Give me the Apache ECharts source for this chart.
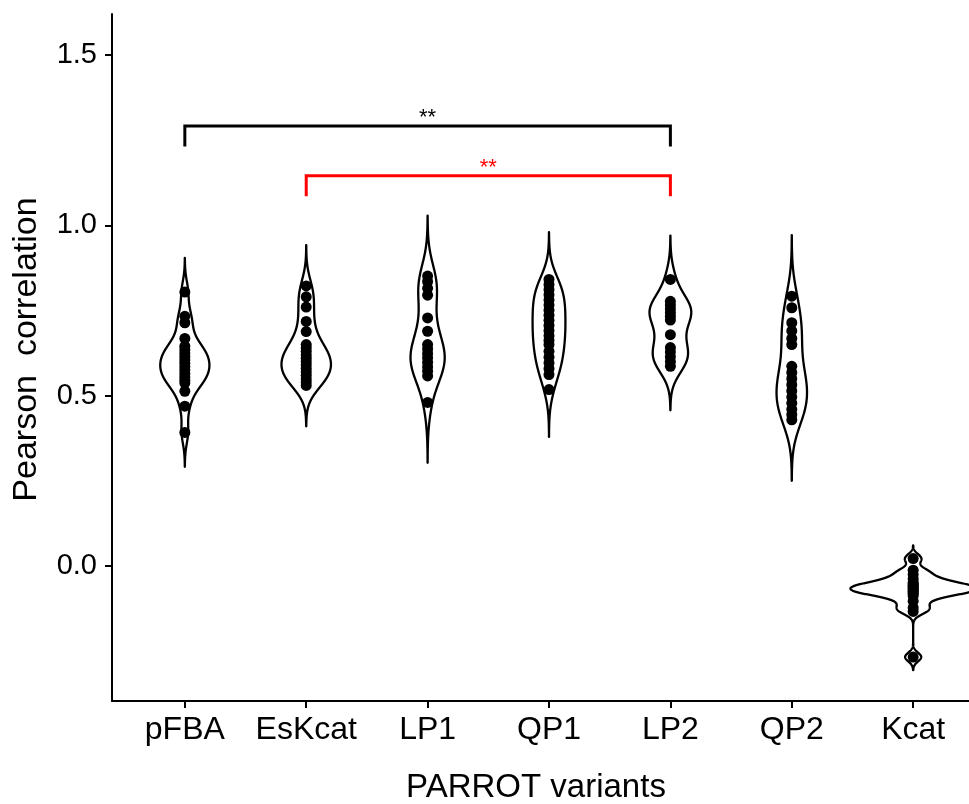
<!DOCTYPE html>
<html>
<head>
<meta charset="utf-8">
<script src="https://cdn.jsdelivr.net/npm/echarts@6/dist/echarts.min.js"></script>
<style>
  html, body { margin: 0; padding: 0; background: #fff; }
  #chart { width: 969px; height: 804px; }
</style>
</head>
<body>
<div id="chart"></div>
<script>
// PARROT variants: Pearson correlation per run
const categories = ['pFBA', 'EsKcat', 'LP1', 'QP1', 'LP2', 'QP2', 'Kcat'];

const pFBA   = [0.804, 0.733, 0.714, 0.668, 0.645, 0.635, 0.625, 0.615, 0.605, 0.595, 0.585, 0.575, 0.565, 0.555, 0.545, 0.537, 0.513, 0.469, 0.392];
const EsKcat = [0.822, 0.790, 0.760, 0.718, 0.688, 0.650, 0.640, 0.630, 0.620, 0.610, 0.600, 0.590, 0.580, 0.570, 0.560, 0.550, 0.540, 0.530];
const LP1    = [0.851, 0.835, 0.815, 0.795, 0.728, 0.689, 0.650, 0.637, 0.624, 0.611, 0.598, 0.585, 0.572, 0.558, 0.480];
const QP1    = [0.841, 0.826, 0.811, 0.796, 0.781, 0.766, 0.751, 0.736, 0.721, 0.706, 0.691, 0.676, 0.662, 0.650, 0.630, 0.613, 0.596, 0.579, 0.562, 0.518];
const LP2    = [0.841, 0.777, 0.766, 0.755, 0.744, 0.733, 0.722, 0.679, 0.641, 0.628, 0.614, 0.600, 0.586];
const QP2    = [0.792, 0.758, 0.714, 0.690, 0.668, 0.650, 0.586, 0.568, 0.550, 0.532, 0.514, 0.496, 0.478, 0.460, 0.445, 0.429];
const Kcat   = [0.022, -0.012, -0.025, -0.038, -0.048, -0.052, -0.056, -0.060, -0.0635, -0.067, -0.0705, -0.074, -0.078, -0.082, -0.087, -0.103, -0.122, -0.133, -0.267];

const groups = [pFBA, EsKcat, LP1, QP1, LP2, QP2, Kcat];

// y-axis ticks
const yTicks = [0.0, 0.5, 1.0, 1.5];

// pairwise significance brackets
const sigFrom   = ['pFBA', 'EsKcat'];
const sigTo     = ['LP2', 'LP2'];
const sigLabel  = ['**', '**'];
const sigLevel  = [1.291, 1.145];
const sigColor  = ['#000000', '#ff0000'];
const sigTip    = 0.06;

// ---- kernel density (gaussian, nrd0 bandwidth, tails extended 3 bw) ----
function quantile7(s, p) {
  const h = (s.length - 1) * p, lo = Math.floor(h), hi = Math.min(lo + 1, s.length - 1);
  return s[lo] + (h - lo) * (s[hi] - s[lo]);
}
function nrd0(x) {
  const n = x.length;
  const m = x.reduce((a, b) => a + b, 0) / n;
  const sd = Math.sqrt(x.reduce((a, b) => a + (b - m) * (b - m), 0) / (n - 1));
  const s = x.slice().sort((a, b) => a - b);
  const iqr = quantile7(s, 0.75) - quantile7(s, 0.25);
  let lo = Math.min(sd, iqr / 1.34);
  if (!(lo > 0)) lo = sd || Math.abs(s[0]) || 1;
  return 0.9 * lo * Math.pow(n, -0.2);
}
function density(x) {
  const bw = nrd0(x);
  const lo = Math.min(...x) - 3 * bw, hi = Math.max(...x) + 3 * bw;
  const N = 512, out = [];
  const k = 1 / (x.length * bw * Math.sqrt(2 * Math.PI));
  for (let i = 0; i < N; i++) {
    const y = lo + (hi - lo) * i / (N - 1);
    let d = 0;
    for (const v of x) { const z = (y - v) / bw; d += Math.exp(-0.5 * z * z); }
    out.push([y, d * k]);
  }
  return out;
}
const densities = groups.map(density);
const maxDens = Math.max(...densities.map(d => Math.max(...d.map(p => p[1]))));
const violinHalf = 0.517; // half width of the widest violin, in category units

const pointData = [];
groups.forEach((g, i) => g.forEach(v => pointData.push([i, v])));

const chart = echarts.init(document.getElementById('chart'), null, { renderer: 'canvas' });
const FONT = 'Liberation Sans, Arial, Helvetica, sans-serif';

chart.setOption({
  backgroundColor: '#ffffff',
  animation: false,
  grid: { left: 112, top: 14, width: 874, height: 687, containLabel: false, outerBoundsMode: 'none' },
  xAxis: {
    type: 'value', min: -0.6, max: 6.6,
    name: 'PARROT variants', nameLocation: 'middle', nameGap: 70,
    nameTextStyle: { fontFamily: FONT, fontSize: 33, color: '#000', padding: [0, 26, 0, 0] },
    axisLine: { show: true, onZero: false, lineStyle: { color: '#000', width: 2 } },
    axisTick: { show: true, length: 7, lineStyle: { color: '#000', width: 2 },
                customValues: categories.map((c, i) => i) },
    axisLabel: { fontFamily: FONT, fontSize: 32, color: '#000', margin: 13,
                 customValues: categories.map((c, i) => i),
                 formatter: v => categories[Math.round(v)] },
    splitLine: { show: false }
  },
  yAxis: {
    type: 'value', min: -0.396, max: 1.62,
    name: 'Pearson  correlation', nameLocation: 'middle', nameGap: 68, nameRotate: 90,
    nameTextStyle: { fontFamily: FONT, fontSize: 34, color: '#000', padding: [0, 0, 0, 16] },
    axisLine: { show: true, onZero: false, lineStyle: { color: '#000', width: 2 } },
    axisTick: { show: true, length: 7, lineStyle: { color: '#000', width: 2 }, customValues: yTicks },
    axisLabel: { fontFamily: FONT, fontSize: 29, color: '#000', margin: 15,
                 customValues: yTicks, formatter: v => v.toFixed(1) },
    splitLine: { show: false }
  },
  series: [
    {
      type: 'custom',
      name: 'violin',
      clip: true,
      data: categories.map((c, i) => [i]),
      renderItem: function (params, api) {
        const i = api.value(0);
        const d = densities[i];
        const right = d.map(p => api.coord([i + p[1] / maxDens * violinHalf, p[0]]));
        const left = d.slice().reverse().map(p => api.coord([i - p[1] / maxDens * violinHalf, p[0]]));
        return {
          type: 'polygon',
          shape: { points: right.concat(left) },
          style: { fill: '#ffffff', stroke: '#000000', lineWidth: 2.3, lineJoin: 'round' }
        };
      },
      z: 2
    },
    {
      type: 'scatter',
      name: 'runs',
      data: pointData,
      symbol: 'circle',
      symbolSize: 11,
      itemStyle: { color: '#000000', opacity: 1 },
      z: 3
    },
    {
      type: 'custom',
      name: 'significance',
      data: sigFrom.map((f, i) => [categories.indexOf(f), categories.indexOf(sigTo[i]), sigLevel[i], i]),
      renderItem: function (params, api) {
        const a = api.value(0), b = api.value(1), lvl = api.value(2), k = api.value(3);
        const p1 = api.coord([a, lvl - sigTip]);
        const p2 = api.coord([a, lvl]);
        const p3 = api.coord([b, lvl]);
        const p4 = api.coord([b, lvl - sigTip]);
        return {
          type: 'group',
          children: [
            { type: 'polyline', shape: { points: [p1, p2, p3, p4] },
              style: { stroke: sigColor[k], lineWidth: 3, fill: null } },
            { type: 'text',
              style: { text: sigLabel[k], x: (p2[0] + p3[0]) / 2, y: p2[1] + 3,
                       align: 'center', verticalAlign: 'bottom',
                       fontFamily: FONT, fontSize: 22, fill: sigColor[k] } }
          ]
        };
      },
      z: 4
    }
  ]
});
</script>
</body>
</html>
